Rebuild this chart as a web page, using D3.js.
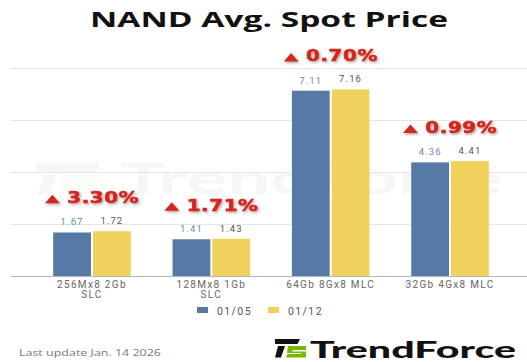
<!DOCTYPE html>
<html>
<head>
<meta charset="utf-8">
<script src="https://cdn.jsdelivr.net/npm/d3@7/dist/d3.min.js"></script>
<style>
  html, body { margin: 0; padding: 0; background: #fff; }
  svg { display: block; }
</style>
</head>
<body>
<svg id="chart" width="527" height="362"></svg>
<script>
// ---- data ----
const categories = ["256Mx8 2Gb SLC", "128Mx8 1Gb SLC", "64Gb 8Gx8 MLC", "32Gb 4Gx8 MLC"];
const seriesNames = ["01/05", "01/12"];
const values0105 = [1.67, 1.41, 7.11, 4.36];
const values0112 = [1.72, 1.43, 7.16, 4.41];
const pctChange = ["3.30%", "1.71%", "0.70%", "0.99%"];
const yTicks = [0, 2, 4, 6, 8];
const titleText = "NAND Avg. Spot Price";
const footerText = "Last update Jan. 14  2026";

const colors = { "01/05": "#5679a6", "01/12": "#f0d15e" };
const labelColors = { "01/05": "#6a88ae", "01/12": "#555555" };

const svg = d3.select("#chart");

const defs = svg.append("defs");
const f = defs.append("filter").attr("id", "shadow").attr("x", "-20%").attr("y", "-40%").attr("width", "140%").attr("height", "180%");
f.append("feDropShadow").attr("dx", 1).attr("dy", 1.5).attr("stdDeviation", 1.2).attr("flood-color", "#000").attr("flood-opacity", 0.35);

// scales
const x0 = d3.scaleBand().domain(categories).range([32.3, 509.7]).paddingInner(0.35).paddingOuter(0.175);
const x1 = d3.scaleBand().domain(seriesNames).range([0, x0.bandwidth()]).paddingInner(0.05);
const y = d3.scaleLinear().domain([0, 8]).range([276, 67.5]);

// title
svg.append("text")
  .attr("x", 90).attr("y", 26.5)
  .attr("font-family", "'Open Sans', sans-serif")
  .attr("font-weight", 700)
  .attr("font-size", 21.5)
  .attr("textLength", 358).attr("lengthAdjust", "spacingAndGlyphs")
  .attr("fill", "#111")
  .text(titleText);

// watermark
const wm = svg.append("g").attr("opacity", 0.03);
wm.append("path").attr("d", "M36,163 L100,163 L96,172 L36,172 Z").attr("fill", "#000");
wm.append("path").attr("d", "M44,175 L56,175 L50,194 L38,194 Z").attr("fill", "#000");
wm.append("path").attr("d", "M62,175 L103,175 L103,194 L58,194 Z").attr("fill", "#9acd32");
wm.append("text").attr("x", 120).attr("y", 194)
  .attr("font-family", "Lato, sans-serif").attr("font-weight", 700).attr("font-size", 42)
  .attr("textLength", 383).attr("lengthAdjust", "spacingAndGlyphs")
  .attr("fill", "#000").text("TrendForce");

// gridlines
svg.append("g").selectAll("line").data(yTicks.filter(d => d > 0)).join("line")
  .attr("x1", 11).attr("x2", 527)
  .attr("y1", d => Math.round(y(d)) + 0.5).attr("y2", d => Math.round(y(d)) + 0.5)
  .attr("stroke", "#e6e6e6").attr("stroke-width", 1);

// bars
const rows = categories.map((c, i) => ({ cat: c, vals: [
  { s: "01/05", v: values0105[i] }, { s: "01/12", v: values0112[i] }] , pct: pctChange[i],
  max: Math.max(values0105[i], values0112[i]) }));

const g = svg.append("g").selectAll("g").data(rows).join("g")
  .attr("transform", d => `translate(${x0(d.cat)},0)`);

g.selectAll("rect").data(d => d.vals).join("rect")
  .attr("x", d => x1(d.s)).attr("width", x1.bandwidth())
  .attr("y", d => y(d.v)).attr("height", d => y(0) - y(d.v))
  .attr("fill", d => colors[d.s]);

g.selectAll("text.val").data(d => d.vals).join("text").attr("class", "val")
  .attr("x", d => x1(d.s) + x1.bandwidth() / 2)
  .attr("y", d => y(d.v) - 7)
  .attr("text-anchor", "middle")
  .attr("font-family", "Roboto, sans-serif")
  .attr("font-size", 9.5)
  .attr("letter-spacing", 1.1)
  .attr("fill", d => labelColors[d.s])
  .text(d => d.v.toFixed(2));

// percent labels (triangle + text), horizontally stretched like the source
const pg = g.append("g")
  .attr("transform", d => `translate(${x0.bandwidth() / 2 - 47},${y(d.max) - 28}) scale(1.24,1)`)
  .attr("filter", "url(#shadow)");
pg.append("path").attr("d", "M0,0 L12,0 L6,-8.5 Z").attr("fill", "#d3261f");
pg.append("text")
  .attr("x", 18).attr("y", 0)
  .attr("font-family", "'DejaVu Sans', sans-serif")
  .attr("font-weight", 700)
  .attr("font-size", 16)
  .attr("letter-spacing", 0.5)
  .attr("fill", "#d3261f")
  .attr("stroke", "#d3261f").attr("stroke-width", 0.6)
  .text(d => d.pct);

// baseline
svg.append("line").attr("x1", 11).attr("x2", 527).attr("y1", 276.5).attr("y2", 276.5)
  .attr("stroke", "#b5b5b5").attr("stroke-width", 1);

// x axis labels (wrapped)
function wrapLines(s, maxChars) {
  const words = s.split(" "); const lines = []; let cur = "";
  words.forEach(w => {
    const t = cur ? cur + " " + w : w;
    if (t.length > maxChars && cur) { lines.push(cur); cur = w; } else cur = t;
  });
  if (cur) lines.push(cur);
  return lines;
}
const xl = svg.append("g").selectAll("text").data(categories).join("text")
  .attr("x", d => x0(d) + x0.bandwidth() / 2)
  .attr("y", 287.5)
  .attr("text-anchor", "middle")
  .attr("font-family", "Roboto, sans-serif")
  .attr("font-size", 10)
  .attr("letter-spacing", 1.3)
  .attr("fill", "#666");
xl.each(function(d) {
  const lines = wrapLines(d, 13);
  d3.select(this).selectAll("tspan").data(lines).join("tspan")
    .attr("x", x0(d) + x0.bandwidth() / 2)
    .attr("dy", (l, i) => i === 0 ? 0 : 10)
    .text(l => l);
});

// legend
const legendX = [197, 268];
const lg = svg.append("g").selectAll("g").data(seriesNames).join("g")
  .attr("transform", (d, i) => `translate(${legendX[i]},307)`);
lg.append("rect").attr("x", 0).attr("y", 0).attr("width", 11).attr("height", 6).attr("fill", d => colors[d]);
lg.append("text").attr("x", 20).attr("y", 7.5)
  .attr("font-family", "Roboto, sans-serif").attr("font-size", 10.5).attr("letter-spacing", 1.4)
  .attr("fill", "#555").text(d => d);

// footer
svg.append("text").attr("x", 19).attr("y", 356)
  .attr("font-family", "'Open Sans', sans-serif").attr("font-size", 9.5)
  .attr("textLength", 142).attr("lengthAdjust", "spacingAndGlyphs")
  .attr("fill", "#777").text(footerText);

// logo
const logo = svg.append("g");
logo.append("path").attr("d", "M275,339 L300,339 L297.5,344 L275,344 Z").attr("fill", "#111");
logo.append("path").attr("d", "M278,346 L285,346 L281,357.5 L275,357.5 Z").attr("fill", "#111");
logo.append("path").attr("d", "M288,346 L306,346 L306,350 L293,350 L292,351.5 L306,351.5 L306,357.5 L286,357.5 L287.5,354 L301,354 L301,353 L287,353 Z").attr("fill", "#7ab800");
logo.append("text").attr("x", 310).attr("y", 357.5)
  .attr("font-family", "Lato, sans-serif").attr("font-weight", 900).attr("font-size", 23)
  .attr("textLength", 206).attr("lengthAdjust", "spacingAndGlyphs")
  .attr("fill", "#111").text("TrendForce");
</script>
</body>
</html>
